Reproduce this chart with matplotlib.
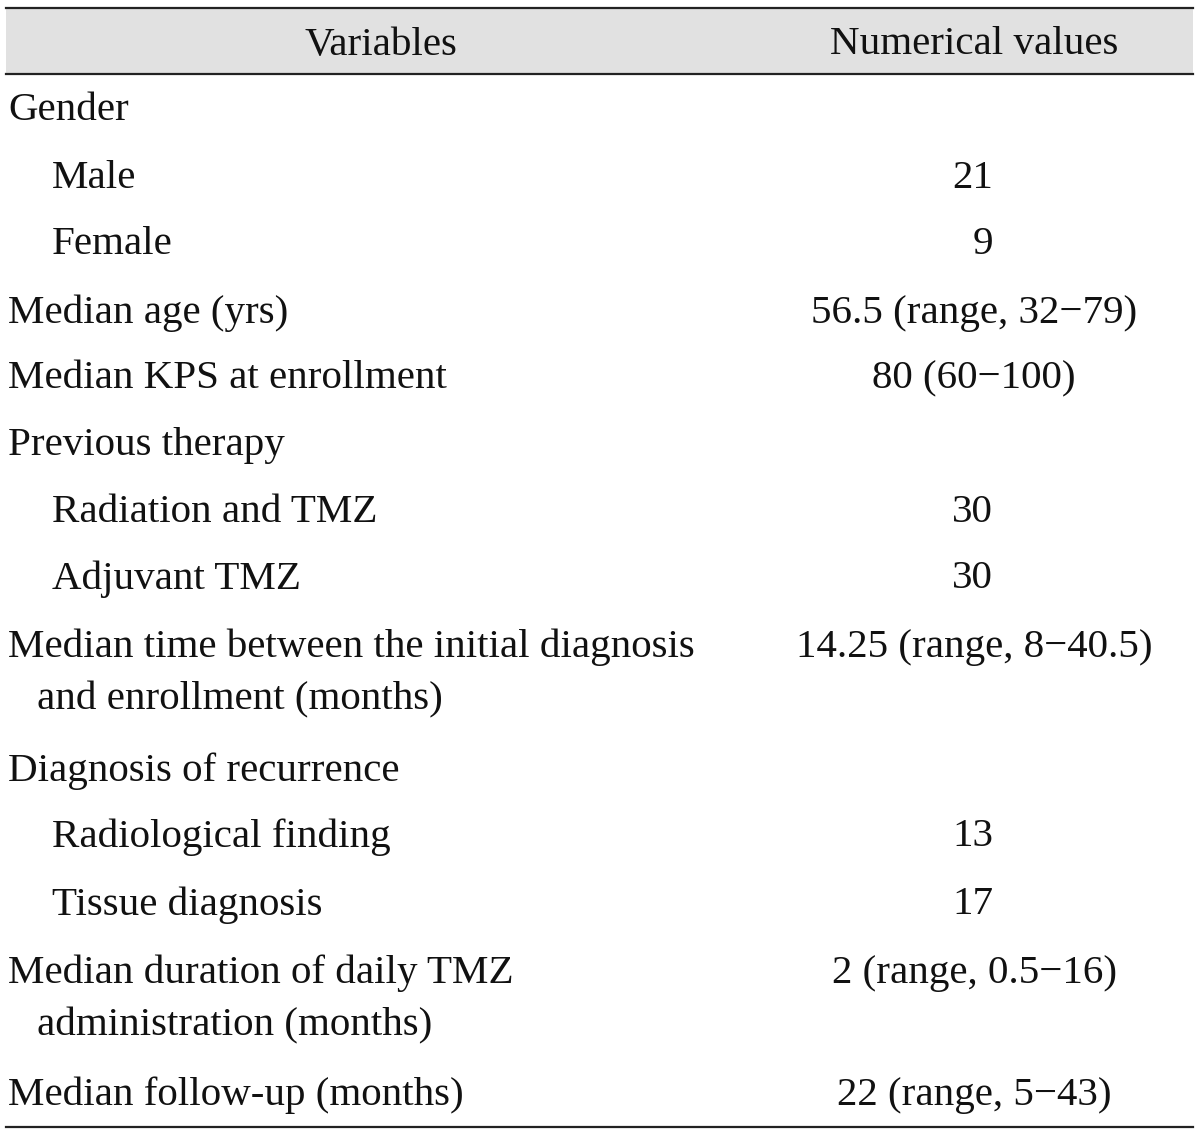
import matplotlib
matplotlib.use("Agg")
import matplotlib.pyplot as plt

plt.rcParams['font.family'] = ['Liberation Serif', 'DejaVu Serif']

headers = ["Variables", "Numerical values"]
variables = [
    ("Gender", 0),
    ("Male", 1),
    ("Female", 1),
    ("Median age (yrs)", 0),
    ("Median KPS at enrollment", 0),
    ("Previous therapy", 0),
    ("Radiation and TMZ", 1),
    ("Adjuvant TMZ", 1),
    ("Median time between the initial diagnosis\n   and enrollment (months)", 0),
    ("Diagnosis of recurrence", 0),
    ("Radiological finding", 1),
    ("Tissue diagnosis", 1),
    ("Median duration of daily TMZ\n   administration (months)", 0),
    ("Median follow-up (months)", 0),
]
values = ["", "21", "9", "56.5 (range, 32\u221279)", "80 (60\u2212100)", "", "30", "30",
          "14.25 (range, 8\u221240.5)", "", "13", "17", "2 (range, 0.5\u221216)",
          "22 (range, 5\u221243)"]

W, H = 1200, 1136
fig = plt.figure(figsize=(W / 100, H / 100), dpi=100)
ax = fig.add_axes([0, 0, 1, 1])
ax.set_xlim(0, W)
ax.set_ylim(H, 0)
ax.axis('off')

fs = 29.5
col = '#111111'
dy = 3
# header band
ax.fill_between([6, 1193], 8, 74, color='#e1e1e1', lw=0)
ax.plot([6, 1193], [8, 8], color='#222222', lw=1.6)
ax.plot([6, 1193], [74, 74], color='#222222', lw=1.6)
ax.plot([6, 1193], [1127, 1127], color='#222222', lw=1.6)
ax.text(381, 42 + dy, headers[0], ha='center', va='center', fontsize=fs, color=col)
ax.text(974, 42 + dy, headers[1], ha='center', va='center', fontsize=fs, color=col)

first_line_y = [108, 175, 242, 310, 376, 443, 509, 576, 644, 768, 834, 902, 970, 1092]

for (label, indent), val, y1 in zip(variables, values, first_line_y):
    y1 = y1 + dy
    lines = label.split("\n")
    x0 = 52 if indent else 8
    ax.text(x0, y1, lines[0], ha='left', va='center', fontsize=fs, color=col)
    if len(lines) > 1:
        ax.text(37, y1 + 53, lines[1].strip(), ha='left', va='center', fontsize=fs, color=col)
    if val:
        if val.isdigit():
            ax.text(993, y1, val, ha='right', va='center', fontsize=fs, color=col)
        else:
            ax.text(974, y1, val, ha='center', va='center', fontsize=fs, color=col)

fig.savefig("out.png", dpi=100)
